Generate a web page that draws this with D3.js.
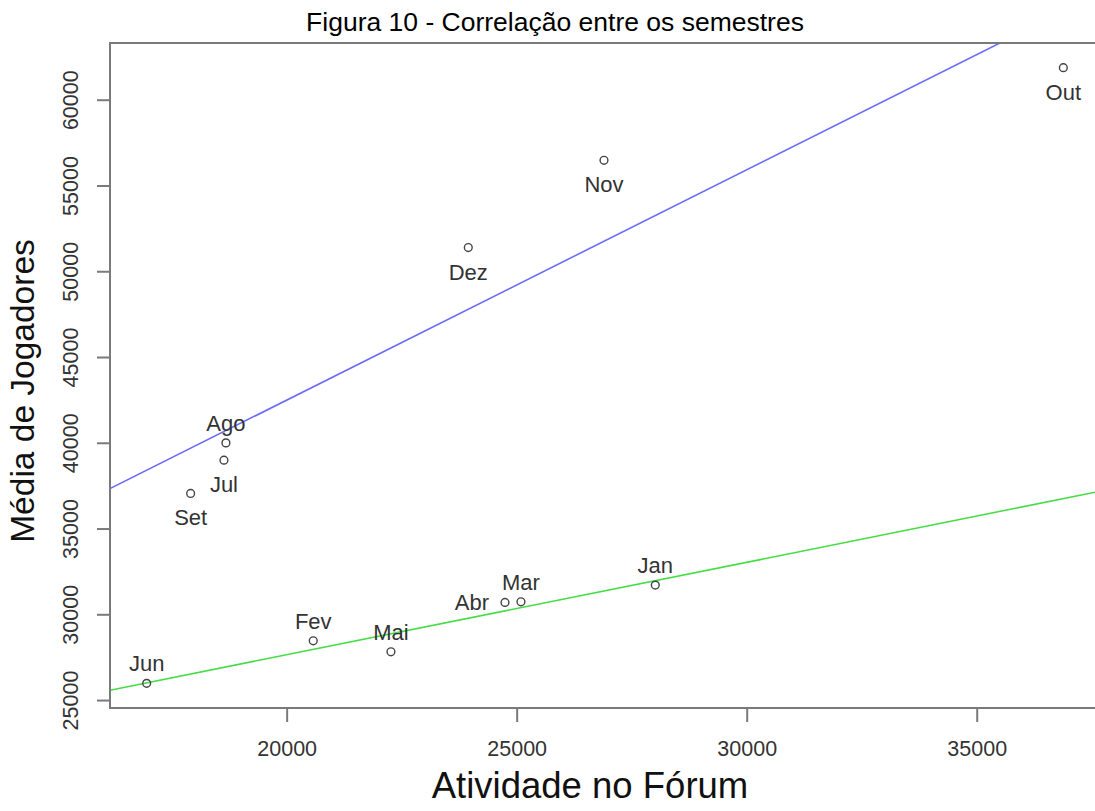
<!DOCTYPE html>
<html>
<head>
<meta charset="utf-8">
<script src="https://cdn.jsdelivr.net/npm/d3@7"></script>
<style>
  html, body { margin: 0; padding: 0; background: #fff; }
  svg { display: block; font-family: "Liberation Sans", Arial, Helvetica, sans-serif; }
</style>
</head>
<body>
<svg id="chart" width="1095" height="811"></svg>
<script>
// Monthly forum activity vs. average player count
const months    = ["Jan", "Fev", "Mar", "Abr", "Mai", "Jun", "Jul", "Ago", "Set", "Out", "Nov", "Dez"];
const forum     = [28013, 20578, 25093, 24746, 22267, 16957, 18637, 18680, 17913, 36883, 26898, 23948];
const players   = [31702, 28456, 30728, 30693, 27815, 25973, 38986, 39994, 37045, 61871, 56469, 51381];
// label placement around each point: "above", "below", "left"
const labelPos  = ["above", "above", "above", "left", "above", "above", "below", "above", "below", "below", "below", "below"];
const semester  = [1, 1, 1, 1, 1, 1, 2, 2, 2, 2, 2, 2];
const xTicks    = [20000, 25000, 30000, 35000];
const yTicks    = [25000, 30000, 35000, 40000, 45000, 50000, 55000, 60000];
const lineColor = { 1: "#44dd44", 2: "#6b6bff" };

const title  = "Figura 10 - Correlação entre os semestres";
const xLabel = "Atividade no Fórum";
const yLabel = "Média de Jogadores";

const svg = d3.select("#chart");
const plot = { left: 110, top: 43, right: 1100, bottom: 708 };

// R-style axis range: data extent padded by 4% on each side
function padded(values) {
  const [lo, hi] = d3.extent(values);
  const pad = (hi - lo) * 0.04;
  return [lo - pad, hi + pad];
}

const x = d3.scaleLinear().domain(padded(forum)).range([plot.left, plot.right]);
const y = d3.scaleLinear().domain(padded(players)).range([plot.bottom, plot.top]);

const data = months.map((m, i) => ({ m, fx: forum[i], py: players[i], pos: labelPos[i], s: semester[i] }));

// least-squares fit per semester
function fit(points) {
  const mx = d3.mean(points, d => d.fx), my = d3.mean(points, d => d.py);
  const sxy = d3.sum(points, d => (d.fx - mx) * (d.py - my));
  const sxx = d3.sum(points, d => (d.fx - mx) ** 2);
  const b = sxy / sxx;
  return { a: my - b * mx, b };
}

svg.append("defs").append("clipPath").attr("id", "plotClip")
  .append("rect")
  .attr("x", plot.left).attr("y", plot.top)
  .attr("width", plot.right - plot.left).attr("height", plot.bottom - plot.top);

// regression lines
const xd = x.domain();
[1, 2].forEach(s => {
  const f = fit(data.filter(d => d.s === s));
  svg.append("line")
    .attr("clip-path", "url(#plotClip)")
    .attr("x1", x(xd[0])).attr("y1", y(f.a + f.b * xd[0]))
    .attr("x2", x(xd[1])).attr("y2", y(f.a + f.b * xd[1]))
    .attr("stroke", lineColor[s]).attr("stroke-width", 1.6);
});

// points
svg.append("g").selectAll("circle").data(data).join("circle")
  .attr("cx", d => x(d.fx)).attr("cy", d => y(d.py)).attr("r", 3.9)
  .attr("fill", "none").attr("stroke", "#444").attr("stroke-width", 1.4);

// point labels
svg.append("g").selectAll("text").data(data).join("text")
  .attr("x", d => d.pos === "left" ? x(d.fx) - 16 : x(d.fx))
  .attr("y", d => d.pos === "above" ? y(d.py) - 12 : d.pos === "below" ? y(d.py) + 32 : y(d.py) + 8)
  .attr("text-anchor", d => d.pos === "left" ? "end" : "middle")
  .attr("font-size", 22).attr("fill", "#333")
  .text(d => d.m);

// box
svg.append("rect")
  .attr("x", plot.left).attr("y", plot.top)
  .attr("width", plot.right - plot.left).attr("height", plot.bottom - plot.top)
  .attr("fill", "none").attr("stroke", "#7a7a7a").attr("stroke-width", 2);

// x axis
const xAxis = svg.append("g").attr("transform", `translate(0,${plot.bottom})`)
  .call(d3.axisBottom(x).tickValues(xTicks).tickFormat(d3.format("d")).tickSizeOuter(0).tickSize(14).tickPadding(19));
xAxis.select(".domain").remove();
xAxis.selectAll("line").attr("stroke", "#7a7a7a").attr("stroke-width", 2);
xAxis.selectAll("text").attr("font-size", 21.5).attr("fill", "#333").attr("font-family", null);

// y axis (labels rotated, as in base R graphics)
const yAxis = svg.append("g").attr("transform", `translate(${plot.left},0)`)
  .call(d3.axisLeft(y).tickValues(yTicks).tickFormat(d3.format("d")).tickSizeOuter(0).tickSize(13));
yAxis.select(".domain").remove();
yAxis.selectAll("line").attr("stroke", "#7a7a7a").attr("stroke-width", 2);
yAxis.selectAll("text")
  .attr("font-size", 21.5).attr("fill", "#333").attr("font-family", null)
  .attr("x", null).attr("dy", null)
  .attr("text-anchor", "middle")
  .attr("transform", "translate(-32,0) rotate(-90)")
  .attr("y", 0);

// titles
svg.append("text").attr("x", 555).attr("y", 31).attr("text-anchor", "middle")
  .attr("font-size", 26.5).attr("fill", "#000").text(title);
svg.append("text").attr("x", 590).attr("y", 798).attr("text-anchor", "middle")
  .attr("font-size", 36.5).attr("fill", "#111").text(xLabel);
svg.append("text").attr("transform", "translate(34,391) rotate(-90)").attr("text-anchor", "middle")
  .attr("font-size", 33.5).attr("fill", "#111").text(yLabel);
</script>
</body>
</html>
